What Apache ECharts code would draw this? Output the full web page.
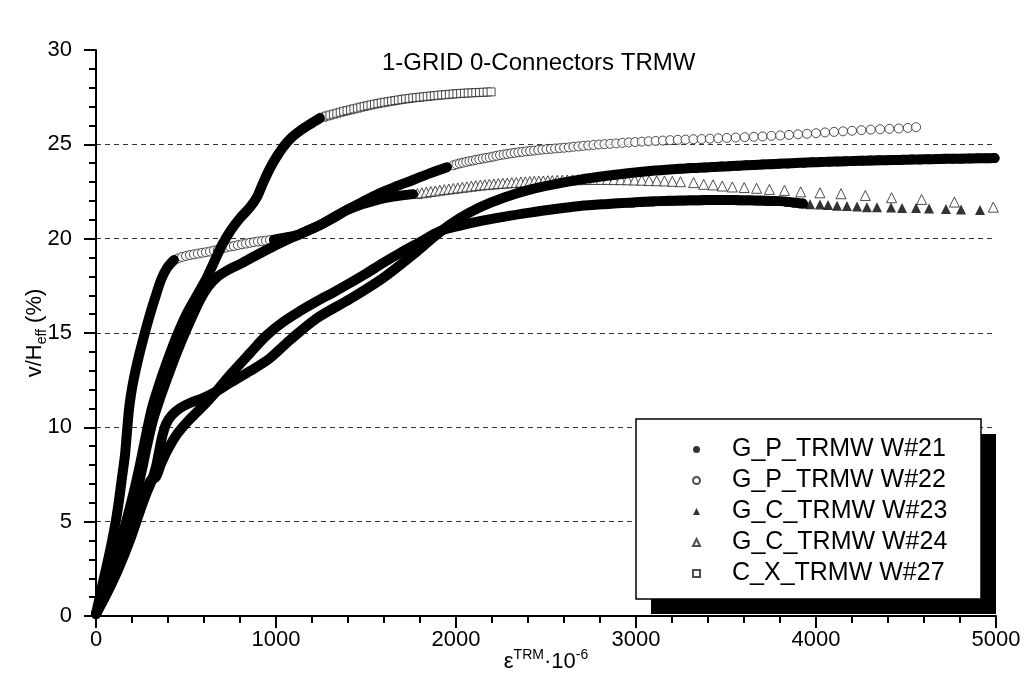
<!DOCTYPE html>
<html>
<head>
<meta charset="utf-8">
<script src="https://cdn.jsdelivr.net/npm/echarts@6/dist/echarts.min.js"></script>
<style>
  html, body { margin: 0; padding: 0; background: #fff; }
  #chart { width: 1027px; height: 691px; }
</style>
</head>
<body>
<div id="chart"></div>
<script>
// Legend names of the five specimens
const seriesNames = ['G_P_TRMW W#21', 'G_P_TRMW W#22', 'G_C_TRMW W#23', 'G_C_TRMW W#24', 'C_X_TRMW W#27'];

// Each curve: [strain eps_TRM x 1e-6, v/H_eff (%)]
const w21 = [
  [0,0.11],[56,1.11],[122,2.44],[189,4.03],[244,5.56],[283,6.57],[311,7.21],[333,7.90],[350,8.69],[367,9.49],
  [389,10.17],[422,10.65],[467,11.02],[522,11.29],[594,11.55],[661,11.87],[744,12.35],[856,12.98],[967,13.67],
  [1078,14.63],[1228,15.79],[1411,16.80],[1594,17.91],[1744,19.02],[1911,20.35],[2022,21.09],[2133,21.67],
  [2272,22.20],[2411,22.60],[2550,22.89],[2689,23.13],[2828,23.32],[2967,23.48],[3106,23.61],[3244,23.71],
  [3290,23.73],[3336,23.75],[3382,23.77],[3428,23.80],[3474,23.82],[3520,23.84],[3566,23.86],[3612,23.89],
  [3658,23.91],[3704,23.93],[3750,23.95],[3796,23.97],[3842,23.99],[3888,24.01],[3934,24.03],[3980,24.05],
  [4026,24.06],[4072,24.08],[4118,24.09],[4164,24.10],[4210,24.12],[4256,24.13],[4302,24.14],[4348,24.15],
  [4394,24.16],[4440,24.17],[4486,24.18],[4532,24.19],[4578,24.20],[4624,24.21],[4670,24.22],[4716,24.23],
  [4762,24.24],[4808,24.24],[4854,24.25],[4900,24.26],[4946,24.26],[4992,24.27]
];

const w22 = [
  [0,0.11],[22,1.06],[44,2.01],[67,2.97],[89,3.97],[111,5.09],[128,6.15],[144,7.31],[161,8.53],[172,9.75],
  [183,10.92],[194,11.71],[211,12.61],[233,13.57],[261,14.63],[294,15.79],[328,16.85],[361,17.81],[394,18.44],
  [433,18.87],
  [455,18.95],[478,19.03],[500,19.08],[522,19.13],[544,19.17],[566,19.21],[589,19.25],[611,19.28],[633,19.32],
  [655,19.37],[677,19.42],[700,19.48],[722,19.53],[744,19.58],[766,19.61],[788,19.66],[811,19.70],[833,19.74],
  [855,19.78],[877,19.82],[900,19.85],[922,19.87],[944,19.90],[966,19.93],[988,19.95],
  [1050,20.05],[1117,20.19],[1180,20.45],[1244,20.72],[1320,21.10],[1394,21.52],[1480,21.95],[1578,22.42],
  [1670,22.78],[1761,23.11],[1850,23.45],[1950,23.79],
  [1985,23.89],[2003,23.94],[2021,23.99],[2039,24.03],[2057,24.07],[2075,24.11],[2093,24.14],[2111,24.18],
  [2130,24.21],[2149,24.25],[2168,24.28],[2187,24.31],[2206,24.35],[2225,24.39],[2245,24.43],[2265,24.46],
  [2285,24.49],[2305,24.52],[2326,24.55],[2347,24.58],[2368,24.60],[2390,24.63],[2412,24.65],[2434,24.67],
  [2457,24.70],[2480,24.72],[2503,24.74],[2527,24.76],[2551,24.78],[2576,24.80],[2601,24.82],[2627,24.84],
  [2653,24.87],[2680,24.89],[2707,24.92],[2735,24.94],[2764,24.97],[2794,24.99],[2825,25.01],[2857,25.03],
  [2890,25.05],[2924,25.08],[2959,25.10],[2995,25.12],[3032,25.14],[3070,25.16],[3109,25.18],[3149,25.20],
  [3190,25.22],[3232,25.24],[3275,25.25],[3319,25.27],[3364,25.28],[3410,25.30],[3457,25.32],[3505,25.34],
  [3554,25.36],[3604,25.38],[3655,25.40],[3703,25.42],[3752,25.45],[3801,25.47],[3850,25.50],[3900,25.53],
  [3950,25.56],[4000,25.59],[4050,25.63],[4100,25.66],[4150,25.69],[4200,25.72],[4252,25.75],[4304,25.78],
  [4356,25.80],[4408,25.82],[4460,25.84],[4510,25.87],[4556,25.91]
];

const w23 = [
  [0,0.11],[67,1.38],[133,2.81],[200,4.40],[244,5.62],[272,6.47],[300,7.15],[333,7.37],[361,8.06],[400,8.85],
  [450,9.64],[506,10.28],[561,10.81],[611,11.29],[661,11.82],[744,12.77],[856,13.94],[944,14.84],[1039,15.58],
  [1133,16.16],[1228,16.69],[1322,17.17],[1411,17.65],[1506,18.18],[1594,18.71],[1689,19.24],[1800,19.82],
  [1911,20.40],[2022,20.69],[2133,20.93],[2272,21.17],[2411,21.38],[2550,21.57],[2689,21.73],[2828,21.83],
  [2967,21.91],[3020,21.94],[3075,21.97],[3130,21.99],[3185,22.01],[3244,22.02],[3300,22.03],[3355,22.04],
  [3410,22.05],[3466,22.05],[3522,22.05],[3578,22.04],[3634,22.03],[3690,22.02],[3745,22.00],[3800,21.99],
  [3850,21.95],[3890,21.90],[3928,21.86],[3967,21.83],[4022,21.81],[4067,21.78],[4117,21.75],[4172,21.73],
  [4228,21.70],[4283,21.67],[4339,21.67],[4417,21.65],[4478,21.62],[4556,21.62],[4628,21.60],[4722,21.57],
  [4806,21.54],[4911,21.52]
];

const w24 = [
  [0,0.11],[61,1.48],[117,2.97],[167,4.45],[211,5.99],[250,7.53],[283,9.01],[317,10.39],[356,11.55],[400,12.72],
  [450,13.99],[511,15.37],[578,16.75],[622,17.44],[672,17.96],[733,18.34],[800,18.65],[883,19.08],[967,19.50],
  [1044,19.87],[1133,20.24],[1244,20.72],[1394,21.52],[1578,22.10],[1761,22.36],
  [1785,22.39],[1810,22.43],[1835,22.46],[1860,22.50],[1885,22.53],[1910,22.57],[1935,22.60],[1960,22.63],
  [1985,22.66],[2010,22.69],[2035,22.72],[2060,22.75],[2085,22.78],[2110,22.81],[2135,22.84],[2160,22.86],
  [2185,22.88],[2210,22.90],[2235,22.92],[2260,22.94],[2285,22.95],[2310,22.97],[2335,22.98],[2360,23.00],
  [2385,23.01],[2410,23.03],[2435,23.04],[2460,23.05],[2485,23.06],[2510,23.07],[2535,23.08],[2562,23.09],
  [2590,23.10],[2618,23.11],[2647,23.12],[2677,23.13],[2708,23.13],[2740,23.14],[2773,23.14],[2807,23.14],
  [2842,23.14],[2878,23.13],[2915,23.13],[2953,23.12],[2992,23.11],[3032,23.10],[3073,23.08],[3115,23.07],
  [3158,23.06],[3202,23.04],[3247,23.02],
  [3320,22.97],[3376,22.88],[3428,22.85],[3479,22.79],[3535,22.74],[3601,22.71],[3670,22.67],[3741,22.61],
  [3825,22.56],[3915,22.48],[4022,22.43],[4139,22.38],[4274,22.29],[4420,22.17],[4587,22.08],[4769,21.94],
  [4985,21.67]
];

const w27 = [
  [0,0.11],[56,1.59],[111,3.18],[161,4.77],[206,6.41],[244,8.00],[278,9.59],[311,11.02],[350,12.24],[394,13.46],
  [444,14.73],[506,16.06],[578,17.28],[617,17.96],[656,18.76],[700,19.66],[750,20.46],[800,21.09],[856,21.67],
  [894,22.20],[928,22.95],[967,23.74],[1006,24.38],[1044,24.91],[1089,25.38],[1139,25.76],[1189,26.07],
  [1244,26.39],
  [1262,26.44],[1281,26.50],[1300,26.55],[1319,26.60],[1338,26.65],[1357,26.70],[1376,26.75],[1395,26.79],
  [1414,26.83],[1433,26.88],[1452,26.92],[1471,26.97],[1490,27.01],[1509,27.05],[1528,27.09],[1547,27.13],
  [1566,27.16],[1585,27.20],[1604,27.23],[1623,27.26],[1642,27.29],[1661,27.32],[1680,27.35],[1700,27.38],
  [1720,27.41],[1740,27.43],[1760,27.46],[1780,27.48],[1800,27.50],[1820,27.52],[1840,27.54],[1860,27.56],
  [1880,27.58],[1900,27.60],[1921,27.62],[1942,27.63],[1963,27.65],[1984,27.67],[2005,27.68],[2026,27.70],
  [2047,27.71],[2068,27.72],[2089,27.73],[2110,27.74],[2131,27.75],[2152,27.76],[2173,27.77],[2195,27.78]
];

const FONT = '"Liberation Sans", Arial, Helvetica, sans-serif';

// "solid": stretches where the readings crowd so tightly that the markers merge into a
// black trace, drawn as a thick stroke. "marks": stretches where single markers show.
// Both are given in strain units.
const specs = [
  { name: seriesNames[0], data: w21, symbol: 'circle',   size: 10, filled: true,
    solid: [[0, 5000]], marks: [[3244, 5000]] },
  { name: seriesNames[1], data: w22, symbol: 'circle',   size: 9,  filled: false,
    solid: [[0, 433], [988, 1950]], marks: [[455, 966], [1985, 5000]] },
  { name: seriesNames[2], data: w23, symbol: 'triangle', size: 10, filled: true,
    solid: [[0, 3928]], marks: [[2967, 5000]] },
  { name: seriesNames[3], data: w24, symbol: 'triangle', size: 10, filled: false,
    solid: [[0, 1761]], marks: [[1785, 5000]] },
  { name: seriesNames[4], data: w27, symbol: 'rect',     size: 8,  filled: false,
    solid: [[0, 1244]], marks: [[1262, 5000]] }
];

const inRanges = (x, ranges) => ranges.some(([a, b]) => x >= a && x <= b);

const series = [];
specs.forEach(s => {
  s.solid.forEach(([a, b], i) => {
    series.push({
      type: 'line',
      name: s.name + ' trace ' + i,
      data: s.data.filter(p => p[0] >= a && p[0] <= b),
      symbol: 'none',
      smooth: 0.3,
      lineStyle: { color: '#000', width: 10, cap: 'round', join: 'round' },
      silent: true,
      z: 3
    });
  });
  series.push({
    type: 'scatter',
    name: s.name,
    data: s.data.filter(p => inRanges(p[0], s.marks)),
    symbol: s.symbol,
    symbolSize: s.size,
    itemStyle: s.filled
      ? { color: '#000' }
      : { color: '#fff', borderColor: '#222', borderWidth: 1 },
    z: s.filled ? 4 : 2
  });
});

const chart = echarts.init(document.getElementById('chart'), null, { renderer: 'canvas' });
chart.setOption({
  animation: false,
  backgroundColor: '#fff',
  title: {
    text: '1-GRID 0-Connectors TRMW',
    left: 382, top: 51, padding: 0,
    textStyle: { fontFamily: FONT, fontSize: 24, fontWeight: 'normal', color: '#000' }
  },
  grid: { left: 96, right: 31, top: 50, bottom: 75 },
  xAxis: {
    type: 'value', min: 0, max: 5000, interval: 1000,
    name: '{n|ε}{s|TRM}{n|·10}{s|-6}',
    nameLocation: 'middle', nameGap: 32, nameMoveOverlap: false,
    nameTextStyle: {
      rich: {
        n: { fontFamily: FONT, fontSize: 22, color: '#000' },
        s: { fontFamily: FONT, fontSize: 14, color: '#000', padding: [0, 0, 14, 0] }
      }
    },
    axisLine: { show: true, lineStyle: { color: '#000', width: 2 } },
    axisTick: { show: true, inside: false, length: 12, lineStyle: { color: '#000', width: 2 } },
    minorTick: { show: true, splitNumber: 5, length: 7, lineStyle: { color: '#000', width: 2 } },
    axisLabel: { fontFamily: FONT, fontSize: 22, color: '#000', margin: 13, formatter: v => String(v) },
    splitLine: { show: false }
  },
  yAxis: {
    type: 'value', min: 0, max: 30, interval: 5,
    name: '{n|v/H}{s|eff}{n| (%)}',
    nameLocation: 'middle', nameRotate: 90, nameGap: 47, nameMoveOverlap: false,
    nameTextStyle: {
      rich: {
        n: { fontFamily: FONT, fontSize: 22, color: '#000' },
        s: { fontFamily: FONT, fontSize: 14, color: '#000', padding: [14, 0, 0, 0] }
      }
    },
    axisLine: { show: true, lineStyle: { color: '#000', width: 2 } },
    axisTick: { show: true, inside: false, length: 12, lineStyle: { color: '#000', width: 2 } },
    minorTick: { show: true, splitNumber: 5, length: 7, lineStyle: { color: '#000', width: 2 } },
    axisLabel: { fontFamily: FONT, fontSize: 22, color: '#000', margin: 24 },
    splitLine: {
      show: true, showMinLine: false, showMaxLine: false,
      lineStyle: { color: '#333', width: 1, type: [5, 4] }
    }
  },
  legend: {
    data: seriesNames,
    orient: 'vertical',
    left: 692, top: 437,
    padding: 0,
    itemWidth: 7, itemHeight: 7, itemGap: 6,
    symbolKeepAspect: true,
    selectedMode: false,
    textStyle: { fontFamily: FONT, fontSize: 25, color: '#000', padding: [0, 0, 0, 27] },
    z: 20
  },
  graphic: [
    { type: 'rect', z: 15, shape: { x: 651, y: 434, width: 345, height: 180 }, style: { fill: '#000' } },
    { type: 'rect', z: 16, shape: { x: 636, y: 419, width: 345, height: 180 }, style: { fill: '#fff', stroke: '#000', lineWidth: 1.5 } }
  ],
  series: series
});
</script>
</body>
</html>
